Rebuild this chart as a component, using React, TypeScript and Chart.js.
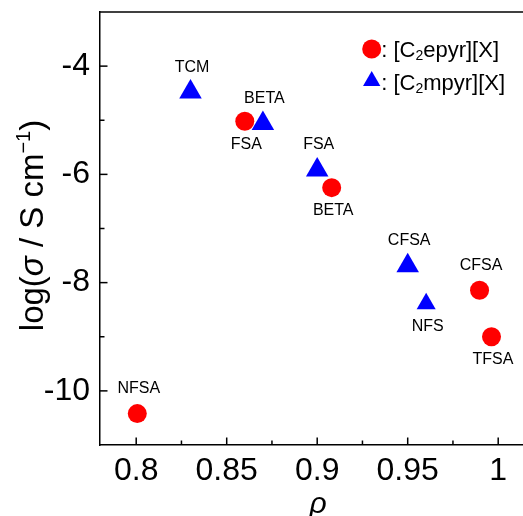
import React, { useEffect, useRef } from 'react';
import { Chart, registerables } from 'chart.js';

Chart.register(...registerables);

// ---- data ----
const epyrNames = ['NFSA', 'FSA', 'BETA', 'CFSA', 'TFSA'];
const epyrRho = [0.8006, 0.86, 0.908, 0.9897, 0.9963];
const epyrLogSigma = [-10.42, -5.02, -6.245, -8.14, -9.0];
const epyrLabelPos = ['above', 'below', 'below', 'above', 'below'];

const mpyrNames = ['TCM', 'BETA', 'FSA', 'CFSA', 'NFS'];
const mpyrRho = [0.83, 0.87, 0.9, 0.95, 0.9602];
const mpyrLogSigma = [-4.48, -5.06, -5.92, -7.69, -8.39];
const mpyrLabelPos = ['above', 'above', 'above', 'above', 'below'];
const mpyrSizes = [13, 13, 13, 13, 11];

const xTickValues = [0.8, 0.85, 0.9, 0.95, 1.0];
const xTickLabels = ['0.8', '0.85', '0.9', '0.95', '1'];
const xMinorTicks = [0.825, 0.875, 0.925, 0.975];
const yTickValues = [-10, -8, -6, -4];
const yTickLabels = ['-10', '-8', '-6', '-4'];
const yMinorTicks = [-9, -7, -5];

const legendParts = [
  [': [C', '2', 'epyr][X]'],
  [': [C', '2', 'mpyr][X]'],
];

const FONT = '"Liberation Sans", Arial, Helvetica, sans-serif';
const RED = '#FF0000';
const BLUE = '#0000FF';

type Part = { t: string; f: string; dy?: number };

function partsWidth(ctx: CanvasRenderingContext2D, parts: Part[]) {
  let w = 0;
  for (const p of parts) {
    ctx.font = p.f;
    w += ctx.measureText(p.t).width;
  }
  return w;
}

function drawParts(ctx: CanvasRenderingContext2D, parts: Part[], x: number, y: number) {
  let cx = x;
  for (const p of parts) {
    ctx.font = p.f;
    ctx.fillText(p.t, cx, y + (p.dy || 0));
    cx += ctx.measureText(p.t).width;
  }
}

const decorPlugin = {
  id: 'decor',
  afterDraw(chart: any) {
    const ctx: CanvasRenderingContext2D = chart.ctx;
    const { left, right, top, bottom } = chart.chartArea;
    const xs = chart.scales.x;
    const ys = chart.scales.y;
    ctx.save();
    ctx.strokeStyle = '#000';
    ctx.lineWidth = 1.5;
    const line = (x1: number, y1: number, x2: number, y2: number) => {
      ctx.beginPath();
      ctx.moveTo(x1, y1);
      ctx.lineTo(x2, y2);
      ctx.stroke();
    };
    // top frame line
    line(left - 0.75, top, right, top);
    // inward ticks
    xTickValues.forEach((v) => {
      const p = xs.getPixelForValue(v);
      line(p, bottom, p, bottom - 7.5);
    });
    xMinorTicks.forEach((v) => {
      const p = xs.getPixelForValue(v);
      line(p, bottom, p, bottom - 4.5);
    });
    yTickValues.forEach((v) => {
      const p = ys.getPixelForValue(v);
      line(left, p, left + 7.5, p);
    });
    yMinorTicks.forEach((v) => {
      const p = ys.getPixelForValue(v);
      line(left, p, left + 4.5, p);
    });

    // point labels
    ctx.fillStyle = '#000';
    ctx.textAlign = 'center';
    ctx.textBaseline = 'middle';
    ctx.font = `16px ${FONT}`;
    const labelSets = [
      { names: epyrNames, pos: epyrLabelPos },
      { names: mpyrNames, pos: mpyrLabelPos },
    ];
    labelSets.forEach((set, i) => {
      const meta = chart.getDatasetMeta(i);
      meta.data.forEach((pt: any, j: number) => {
        const dy = set.pos[j] === 'above' ? -25 : 23;
        ctx.fillText(set.names[j], pt.x + 1.5, pt.y + dy);
      });
    });

    // legend
    ctx.textAlign = 'left';
    ctx.textBaseline = 'alphabetic';
    const lx = left + 271.7;
    ctx.fillStyle = RED;
    ctx.beginPath();
    ctx.arc(lx, 49, 9.5, 0, Math.PI * 2);
    ctx.fill();
    ctx.fillStyle = BLUE;
    const tr = 10;
    const ty = 81;
    ctx.beginPath();
    ctx.moveTo(lx, ty - tr);
    ctx.lineTo(lx + Math.sin((2 * Math.PI) / 3) * tr, ty + tr / 2);
    ctx.lineTo(lx - Math.sin((2 * Math.PI) / 3) * tr, ty + tr / 2);
    ctx.closePath();
    ctx.fill();
    ctx.fillStyle = '#000';
    const baselines = [57.3, 90];
    legendParts.forEach((lp, i) => {
      const parts: Part[] = [
        { t: lp[0], f: `22px ${FONT}` },
        { t: lp[1], f: `14px ${FONT}`, dy: 3 },
        { t: lp[2], f: `22px ${FONT}` },
      ];
      drawParts(ctx, parts, lx + 9.5, baselines[i]);
    });

    // y-axis title
    const yParts: Part[] = [
      { t: 'log(', f: `33px ${FONT}` },
      { t: 'σ', f: `italic 33px ${FONT}` },
      { t: ' / S cm', f: `33px ${FONT}` },
      { t: '−1', f: `20px ${FONT}`, dy: -13 },
      { t: ')', f: `33px ${FONT}` },
    ];
    const tw = partsWidth(ctx, yParts);
    ctx.save();
    ctx.translate(43, (top + bottom) / 2 - 3);
    ctx.rotate(-Math.PI / 2);
    drawParts(ctx, yParts, -tw / 2, 0);
    ctx.restore();

    // x-axis title
    ctx.textAlign = 'center';
    ctx.font = `italic 30px ${FONT}`;
    ctx.fillText('ρ', (left + 534) / 2 + 1, 513);

    ctx.restore();
  },
};

export default function App() {
  const ref = useRef<HTMLCanvasElement>(null);
  useEffect(() => {
    const canvas = ref.current!;
    const chart = new Chart(canvas, {
      type: 'scatter',
      data: {
        datasets: [
          {
            label: '[C2epyr][X]',
            data: epyrRho.map((x, i) => ({ x, y: epyrLogSigma[i] })),
            pointStyle: 'circle',
            pointRadius: 9.5,
            pointBackgroundColor: RED,
            pointBorderColor: RED,
            pointBorderWidth: 0,
          },
          {
            label: '[C2mpyr][X]',
            data: mpyrRho.map((x, i) => ({ x, y: mpyrLogSigma[i] })),
            pointStyle: 'triangle',
            pointRadius: mpyrSizes,
            pointBackgroundColor: BLUE,
            pointBorderColor: BLUE,
            pointBorderWidth: 0,
          },
        ],
      },
      options: {
        responsive: false,
        animation: false,
        devicePixelRatio: 1,
        events: [],
        layout: { autoPadding: false, padding: { top: 12, left: 0, right: 0, bottom: 0 } },
        plugins: { legend: { display: false }, tooltip: { enabled: false } },
        scales: {
          x: {
            type: 'linear',
            position: 'bottom',
            min: 0.78,
            max: 1.0137,
            afterBuildTicks: (s: any) => {
              s.ticks = xTickValues.map((value) => ({ value }));
            },
            afterFit: (s: any) => {
              s.height = 71;
              s.paddingLeft = 0;
              s.paddingRight = 0;
              s.paddingTop = 0;
              s.paddingBottom = 0;
            },
            grid: { display: false, drawTicks: false },
            border: { display: true, color: '#000', width: 1.5 },
            ticks: {
              color: '#000',
              font: { family: FONT, size: 32 },
              padding: 7,
              maxRotation: 0,
              autoSkip: false,
              callback: (_v: any, i: number) => xTickLabels[i],
            },
          },
          y: {
            type: 'linear',
            position: 'left',
            min: -11,
            max: -3,
            afterBuildTicks: (s: any) => {
              s.ticks = yTickValues.map((value) => ({ value }));
            },
            afterFit: (s: any) => {
              s.width = 100;
              s.paddingLeft = 0;
              s.paddingRight = 0;
              s.paddingTop = 0;
              s.paddingBottom = 0;
            },
            grid: { display: false, drawTicks: false },
            border: { display: true, color: '#000', width: 1.5 },
            ticks: {
              color: '#000',
              font: { family: FONT, size: 32 },
              padding: 10,
              autoSkip: false,
              callback: (_v: any, i: number) => yTickLabels[i],
            },
          },
        },
      },
      plugins: [decorPlugin],
    } as any);
    return () => chart.destroy();
  }, []);
  return (
    <div style={{ position: 'absolute', left: 0, top: 0, width: 523, height: 516, background: '#fff', overflow: 'hidden' }}>
      <canvas ref={ref} width={523} height={516} style={{ display: 'block', width: 523, height: 516 }} />
    </div>
  );
}
